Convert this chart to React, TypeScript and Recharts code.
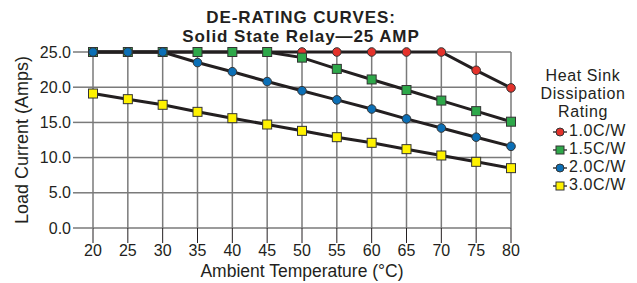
import { LineChart, Line, XAxis, YAxis, CartesianGrid, Label } from 'recharts';

const temps = [20, 25, 30, 35, 40, 45, 50, 55, 60, 65, 70, 75, 80];
const rating10 = [25, 25, 25, 25, 25, 25, 25, 25, 25, 25, 25, 22.4, 19.9];
const rating15 = [25, 25, 25, 25, 25, 25, 24.2, 22.6, 21.1, 19.6, 18.1, 16.6, 15.1];
const rating20 = [25, 25, 25, 23.5, 22.2, 20.8, 19.5, 18.2, 16.9, 15.5, 14.2, 12.9, 11.6];
const rating30 = [19.1, 18.3, 17.5, 16.5, 15.6, 14.7, 13.8, 12.9, 12.1, 11.2, 10.3, 9.4, 8.5];
const xTicks = [20, 25, 30, 35, 40, 45, 50, 55, 60, 65, 70, 75, 80];
const yTicks = [0, 5, 10, 15, 20, 25];

const series = [
  { key: 'r10', name: '1.0C/W', values: rating10, color: '#e4322b', shape: 'circle' },
  { key: 'r15', name: '1.5C/W', values: rating15, color: '#2ea84a', shape: 'square' },
  { key: 'r20', name: '2.0C/W', values: rating20, color: '#0b6fb6', shape: 'circle' },
  { key: 'r30', name: '3.0C/W', values: rating30, color: '#fff200', shape: 'square' },
];

const data = temps.map((t, i) => {
  const row: Record<string, number> = { temp: t };
  series.forEach((s) => (row[s.key] = s.values[i]));
  return row;
});

const font = '"Liberation Sans", Arial, Helvetica, sans-serif';
const ink = '#231f20';
const gridGrey = '#7a7a7a';

const makeDot = (color: string, shape: string) => (props: any) => {
  const { cx, cy, index } = props;
  if (cx == null || cy == null) return <g key={index} />;
  if (shape === 'square') {
    return <rect key={index} x={cx - 4.5} y={cy - 4.5} width={9} height={9} fill={color} stroke="#333" strokeWidth={1} />;
  }
  return <circle key={index} cx={cx} cy={cy} r={4.3} fill={color} stroke="#333" strokeWidth={1} />;
};

const LegendBox = () => (
  <div
    style={{
      position: 'absolute',
      left: 538,
      top: 67,
      width: 90,
      fontFamily: font,
      color: ink,
      fontSize: 16,
      letterSpacing: 0.6,
      lineHeight: '18px',
    }}
  >
    <div style={{ textAlign: 'center' }}>Heat Sink</div>
    <div style={{ textAlign: 'center' }}>Dissipation</div>
    <div style={{ textAlign: 'center', marginBottom: 1 }}>Rating</div>
    {series.map((s) => (
      <div key={s.key} style={{ display: 'flex', alignItems: 'center', height: 18 }}>
        <svg width={16} height={14} style={{ marginLeft: 14, marginRight: 1 }}>
          <line x1={1} y1={8} x2={15} y2={8} stroke={ink} strokeWidth={1.3} />
          {s.shape === 'square' ? (
            <rect x={4} y={4} width={8} height={8} fill={s.color} stroke="#333" strokeWidth={1} />
          ) : (
            <circle cx={8} cy={8} r={4} fill={s.color} stroke="#333" strokeWidth={1} />
          )}
        </svg>
        <span>{s.name}</span>
      </div>
    ))}
  </div>
);

export default function App() {
  return (
    <div style={{ position: 'absolute', left: 0, top: 0, width: 637, height: 283, background: '#fff' }}>
      <div
        style={{
          position: 'absolute',
          left: 140,
          width: 322,
          top: 8,
          textAlign: 'center',
          fontFamily: font,
          fontWeight: 'bold',
          fontSize: 17,
          letterSpacing: 0.9,
          lineHeight: '19px',
          color: ink,
        }}
      >
        <div>DE-RATING CURVES:</div>
        <div>Solid State Relay—25 AMP</div>
      </div>
      <LineChart width={637} height={283} data={data} margin={{ top: 52, right: 126, bottom: 0, left: 0 }}>
        <CartesianGrid stroke={gridGrey} strokeWidth={1.5} horizontal vertical />
        <XAxis
          dataKey="temp"
          type="number"
          domain={[20, 80]}
          ticks={xTicks}
          interval={0}
          height={55}
          axisLine={false}
          tickSize={15}
          tickLine={{ stroke: ink, strokeWidth: 1 }}
          tick={{ fontFamily: font, fontSize: 16, fill: ink }}
          tickMargin={2}
        >
          <Label value="Ambient Temperature (°C)" position="insideBottom" offset={6} style={{ fontFamily: font, fontSize: 17.5, fill: ink }} />
        </XAxis>
        <YAxis
          type="number"
          domain={[0, 25]}
          ticks={yTicks}
          width={93}
          axisLine={false}
          tickSize={20}
          tickLine={{ stroke: gridGrey, strokeWidth: 1.5 }}
          tickFormatter={(v: number) => v.toFixed(1)}
          tick={{ fontFamily: font, fontSize: 16, fill: ink }}
          tickMargin={2}
        >
          <Label value="Load Current (Amps)" angle={-90} position="insideLeft" offset={22} style={{ fontFamily: font, fontSize: 18, fill: ink, textAnchor: 'middle' }} />
        </YAxis>
        {series.map((s) => (
          <Line
            key={s.key}
            dataKey={s.key}
            name={s.name}
            stroke={ink}
            strokeWidth={3}
            dot={makeDot(s.color, s.shape)}
            activeDot={false}
            isAnimationActive={false}
          />
        ))}
      </LineChart>
      <LegendBox />
    </div>
  );
}
